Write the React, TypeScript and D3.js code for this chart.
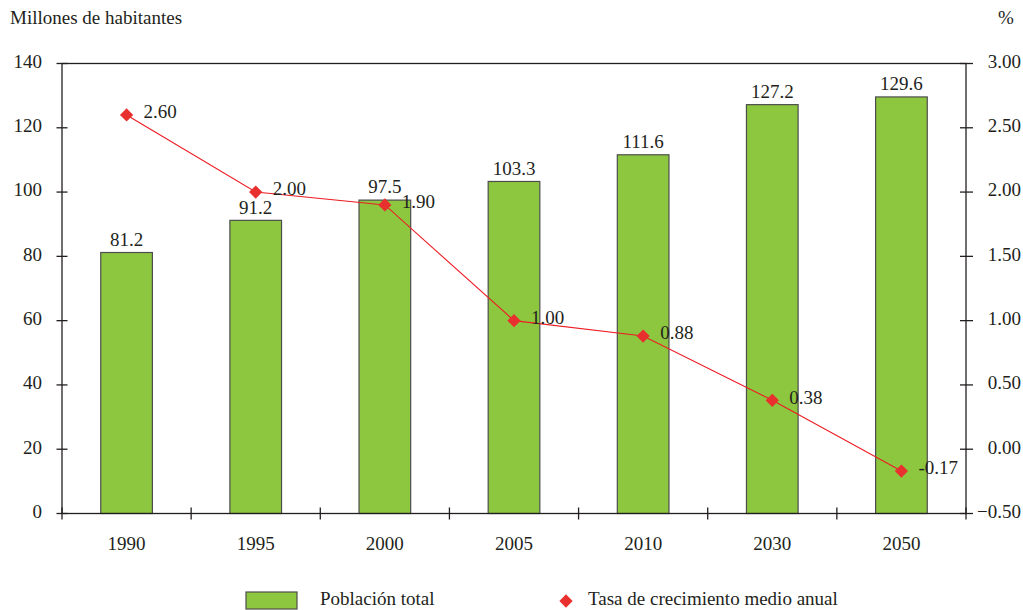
import React, { useEffect, useRef } from 'react';
import * as d3 from 'd3';

const years = ['1990', '1995', '2000', '2005', '2010', '2030', '2050'];
const poblacion = [81.2, 91.2, 97.5, 103.3, 111.6, 127.2, 129.6];
const tasa = [2.6, 2.0, 1.9, 1.0, 0.88, 0.38, -0.17];
const leftTicks = [0, 20, 40, 60, 80, 100, 120, 140];
const rightTicks = [-0.5, 0, 0.5, 1, 1.5, 2, 2.5, 3];

const App = () => {
  const svgRef = useRef<SVGSVGElement>(null);

  useEffect(() => {
    const width = 1023;
    const height = 610;
    const m = { left: 62, right: 966, top: 63.5, bottom: 513.5 };
    const font = '"Liberation Serif", "DejaVu Serif", serif';
    const ink = '#231f20';

    const svg = d3.select(svgRef.current);
    svg.selectAll('*').remove();
    svg.attr('width', width).attr('height', height)
      .style('font-family', font).style('font-size', '19px');

    const x = d3.scaleBand().domain(years).range([m.left, m.right]).paddingInner(0.6).paddingOuter(0.3);
    const xCenter = (d: string) => (x(d) as number) + x.bandwidth() / 2;
    const step = (m.right - m.left) / years.length;
    const yL = d3.scaleLinear().domain([0, 140]).range([m.bottom, m.top]);
    const yR = d3.scaleLinear().domain([-0.5, 3]).range([m.bottom, m.top]);

    // bars
    svg.append('g').selectAll('rect')
      .data(poblacion)
      .enter()
      .append('rect')
      .attr('x', (d, i) => x(years[i]) as number)
      .attr('y', d => yL(d))
      .attr('width', x.bandwidth())
      .attr('height', d => yL(0) - yL(d))
      .attr('fill', '#8dc63f')
      .attr('stroke', '#4d4d4d')
      .attr('stroke-width', 1.2);

    svg.append('g').selectAll('text')
      .data(poblacion)
      .enter()
      .append('text')
      .attr('x', (d, i) => xCenter(years[i]))
      .attr('y', d => yL(d) - 11)
      .attr('text-anchor', 'middle')
      .attr('dominant-baseline', 'middle')
      .attr('fill', ink)
      .text(d => d.toFixed(1));

    // frame and axes
    const frame = svg.append('g').attr('stroke', ink).attr('stroke-width', 1.3).attr('fill', 'none');
    frame.append('rect')
      .attr('x', m.left).attr('y', m.top)
      .attr('width', m.right - m.left).attr('height', m.bottom - m.top);

    leftTicks.forEach(t => {
      frame.append('line').attr('x1', m.left - 5.5).attr('x2', m.left + 5.5).attr('y1', yL(t)).attr('y2', yL(t));
    });
    rightTicks.forEach(t => {
      frame.append('line').attr('x1', m.right - 6).attr('x2', m.right + 7).attr('y1', yR(t)).attr('y2', yR(t));
    });
    d3.range(years.length + 1).forEach(i => {
      const xx = m.left + i * step;
      frame.append('line').attr('x1', xx).attr('x2', xx).attr('y1', m.bottom - 6).attr('y2', m.bottom + 6);
    });

    svg.append('g').selectAll('text')
      .data(leftTicks)
      .enter()
      .append('text')
      .attr('x', 42)
      .attr('y', d => yL(d))
      .attr('text-anchor', 'end')
      .attr('dominant-baseline', 'middle')
      .attr('fill', ink)
      .text(d => d);

    svg.append('g').selectAll('text')
      .data(rightTicks)
      .enter()
      .append('text')
      .attr('x', 1021)
      .attr('y', d => yR(d))
      .attr('text-anchor', 'end')
      .attr('dominant-baseline', 'middle')
      .attr('fill', ink)
      .text(d => d3.format('.2f')(d));

    svg.append('g').selectAll('text')
      .data(years)
      .enter()
      .append('text')
      .attr('x', d => xCenter(d))
      .attr('y', 546)
      .attr('text-anchor', 'middle')
      .attr('dominant-baseline', 'middle')
      .attr('fill', ink)
      .text(d => d);

    svg.append('text').attr('x', 10).attr('y', 20).attr('dominant-baseline', 'middle').attr('fill', ink)
      .text('Millones de habitantes');
    svg.append('text').attr('x', 1006).attr('y', 20).attr('text-anchor', 'middle').attr('dominant-baseline', 'middle').attr('fill', ink)
      .text('%');

    // growth rate line
    const line = d3.line<number>()
      .x((d, i) => xCenter(years[i]))
      .y(d => yR(d));
    svg.append('path')
      .datum(tasa)
      .attr('d', line)
      .attr('fill', 'none')
      .attr('stroke', '#ed1c24')
      .attr('stroke-width', 1.1);

    const diamond = d3.symbol().type(d3.symbolSquare).size(88);
    svg.append('g').selectAll('path')
      .data(tasa)
      .enter()
      .append('path')
      .attr('d', diamond)
      .attr('transform', (d, i) => `translate(${xCenter(years[i])},${yR(d)}) rotate(45)`)
      .attr('fill', '#e8312f');

    svg.append('g').selectAll('text')
      .data(tasa)
      .enter()
      .append('text')
      .attr('x', (d, i) => xCenter(years[i]) + 17)
      .attr('y', d => yR(d) - 1)
      .attr('dominant-baseline', 'middle')
      .attr('fill', ink)
      .text(d => d.toFixed(2));

    // legend
    const lg = svg.append('g');
    lg.append('rect').attr('x', 246).attr('y', 592).attr('width', 51).attr('height', 17)
      .attr('fill', '#8dc63f').attr('stroke', '#4d4d4d').attr('stroke-width', 1.2);
    lg.append('text').attr('x', 320).attr('y', 601).attr('dominant-baseline', 'middle').attr('fill', ink)
      .text('Población total');
    lg.append('path').attr('d', diamond).attr('transform', 'translate(566,601) rotate(45)').attr('fill', '#e8312f');
    lg.append('text').attr('x', 588).attr('y', 601).attr('dominant-baseline', 'middle').attr('fill', ink)
      .text('Tasa de crecimiento medio anual');
  }, []);

  return (
    <div style={{ position: 'absolute', left: 0, top: 0 }}>
      <svg ref={svgRef} style={{ display: 'block' }}></svg>
    </div>
  );
};

export default App;
